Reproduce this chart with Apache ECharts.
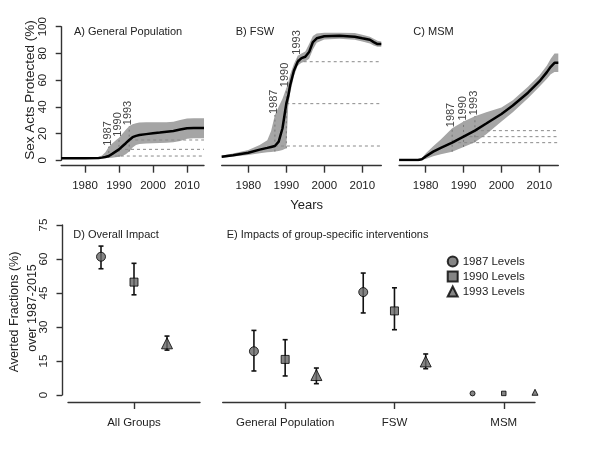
<!DOCTYPE html>
<html><head><meta charset="utf-8">
<script src="https://cdn.jsdelivr.net/npm/echarts@6/dist/echarts.min.js"></script>
<style>html,body{margin:0;padding:0;background:#fff}#c{width:600px;height:450px}</style>
</head><body><div id="c"></div>
<script>
const FONT = '"Liberation Sans", Arial, Helvetica, sans-serif';

// ---------- Top row: Sex Acts Protected (%) ----------
const yearsA = [1973, 1980, 1984, 1985, 1986, 1987, 1988, 1989, 1990, 1991, 1992, 1993, 1994, 1995, 1996, 1998, 2000, 2002, 2004, 2006, 2008, 2010, 2012, 2015];
const meanA  = [1.5, 1.6, 1.8, 2.0, 2.5, 3.2, 4.8, 6.5, 8.2, 10.5, 12.8, 15.2, 17.3, 18.3, 18.9, 19.6, 20.3, 20.8, 21.4, 22.0, 23.0, 24.0, 24.2, 24.2];
const lowA   = [1.4, 1.5, 1.6, 1.6, 1.7, 1.8, 2.0, 2.2, 2.6, 3.2, 4.5, 6.5, 9.5, 11.5, 12.2, 12.6, 12.8, 13.0, 13.2, 13.5, 14.5, 16.2, 16.5, 16.5];
const highA  = [1.6, 1.8, 2.5, 3.5, 6.0, 10.2, 12.5, 14.8, 16.9, 19.8, 22.8, 25.5, 27.0, 27.8, 28.2, 28.4, 28.4, 28.4, 28.5, 28.8, 30.2, 31.2, 31.4, 31.4];
const levelsA = [3.2, 8.2, 15.2];

const yearsB = [1973, 1976, 1980, 1983, 1985, 1986, 1987, 1988, 1989, 1990, 1990.5, 1991, 1992, 1993, 1994, 1995, 1996, 1997, 1998, 2000, 2004, 2008, 2010, 2012, 2013, 2014, 2015];
const meanB  = [2.7, 3.8, 5.7, 8.0, 9.3, 10.0, 10.7, 14.0, 24.0, 42.4, 48.0, 56.0, 67.0, 73.8, 76.5, 77.5, 81.0, 88.5, 91.3, 92.8, 93.3, 92.5, 91.3, 90.2, 88.5, 87.0, 87.0];
const lowB   = [1.9, 2.8, 4.0, 5.3, 6.0, 6.3, 6.5, 7.0, 7.8, 9.0, 40.0, 50.0, 63.0, 71.0, 73.0, 74.0, 76.0, 83.0, 88.0, 90.5, 91.0, 90.2, 89.0, 87.5, 86.0, 85.0, 85.0];
const highB  = [3.6, 5.0, 7.8, 11.5, 15.0, 22.0, 33.9, 40.0, 46.0, 54.0, 58.0, 64.0, 72.0, 78.3, 80.0, 81.5, 87.0, 93.0, 95.0, 95.5, 95.5, 95.3, 94.0, 92.5, 91.0, 89.5, 89.0];
const levelsB = [10.7, 42.4, 73.8];

const yearsC = [1973, 1978, 1979, 1980, 1982, 1984, 1987, 1990, 1993, 1996, 2000, 2003, 2007, 2010, 2012, 2013, 2014, 2015];
const meanC  = [0.2, 0.2, 0.8, 2.8, 6.5, 9.3, 13.2, 17.7, 22.2, 27.5, 34.7, 41.0, 50.6, 59.0, 66.0, 70.0, 73.0, 73.0];
const lowC   = [0.1, 0.1, 0.3, 1.0, 3.0, 4.5, 6.4, 10.0, 13.5, 19.5, 29.0, 36.0, 46.4, 55.0, 61.0, 64.5, 66.0, 66.0];
const highC  = [0.3, 0.4, 1.5, 5.0, 10.5, 15.5, 24.0, 29.0, 33.0, 36.0, 39.5, 45.0, 55.0, 63.5, 71.0, 76.0, 80.0, 80.0];
const levelsC = [13.2, 17.7, 22.2];

const levelYears = [1987, 1990, 1993];
const topXTicks = [1980, 1990, 2000, 2010];
const panelTitles = ['A) General Population', 'B) FSW', 'C) MSM'];

// ---------- Bottom row: Averted Fractions (%) ----------
const levelNames = ['1987 Levels', '1990 Levels', '1993 Levels'];
const overallMid  = [61.0, 49.8, 22.8];
const overallLow  = [55.7, 44.2, 19.8];
const overallHigh = [65.7, 58.1, 26.0];

const groupsE = ['General Population', 'FSW', 'MSM'];
// rows = level (1987, 1990, 1993), columns = group
const eMid  = [[19.3, 45.4, 0.7], [15.7, 37.1, 0.7], [8.8, 14.8, 1.2]];
const eLow  = [[10.6, 36.2, 0.7], [8.4, 28.8, 0.7], [5.0, 11.6, 1.2]];
const eHigh = [[28.5, 53.8, 0.7], [24.4, 47.3, 0.7], [11.9, 18.1, 1.2]];

const bottomYTicksMax = 75;

// ---------- build ----------
const symbols = ['circle', 'rect', 'triangle'];
const bigSizes = [9, 8, 11];
const smallSizes = [5, 4.5, 6];
const markerStyle = {color: '#666', borderColor: '#000', borderWidth: 1};
const axisLineStyle = {color: '#333', width: 1.4};
const txt = {fontFamily: FONT, color: '#222'};
const plain = v => String(v);

const topPanels = [
  {years: yearsA, mean: meanA, low: lowA, high: highA, levels: levelsA, left: 61.2, width: 142.8},
  {years: yearsB, mean: meanB, low: lowB, high: highB, levels: levelsB, left: 221.7, width: 159.6},
  {years: yearsC, mean: meanC, low: lowC, high: highC, levels: levelsC, left: 399.1, width: 159.2}
];

const grid = [], xAxis = [], yAxis = [], series = [], graphic = [];

topPanels.forEach((p, i) => {
  grid.push({left: p.left, top: 26.7, width: p.width, height: 133.6, outerBoundsMode: 'none'});
  xAxis.push({
    gridIndex: i, type: 'value', min: 1973, max: 2015, offset: 5.4,
    axisLine: {show: true, onZero: false, lineStyle: axisLineStyle},
    axisTick: {show: true, length: 7, customValues: topXTicks, lineStyle: axisLineStyle},
    axisLabel: {customValues: topXTicks, margin: 14, fontSize: 11.5, ...txt, formatter: plain},
    splitLine: {show: false}
  });
  yAxis.push({
    gridIndex: i, type: 'value', min: 0, max: 100, interval: 20, show: i === 0,
    axisLine: {show: true, onZero: false, lineStyle: axisLineStyle},
    axisTick: {show: true, length: 5.5, lineStyle: axisLineStyle},
    axisLabel: {rotate: 90, margin: 12, fontSize: 11.5, ...txt, formatter: plain},
    splitLine: {show: false}
  });
  // CI band
  series.push({
    type: 'custom', xAxisIndex: i, yAxisIndex: i, z: 1, silent: true,
    data: [[p.years[0], p.low[0]]],
    renderItem: (params, api) => {
      const pts = p.years.map((y, k) => api.coord([y, p.high[k]]));
      for (let k = p.years.length - 1; k >= 0; k--) pts.push(api.coord([p.years[k], p.low[k]]));
      return {type: 'polygon', shape: {points: pts}, style: {fill: '#a5a5a5'}};
    }
  });
  // level dashed lines, vertical CI marks and year labels
  series.push({
    type: 'custom', xAxisIndex: i, yAxisIndex: i, z: 2, silent: true,
    data: levelYears.map((y, k) => [y, p.levels[k]]),
    renderItem: (params, api) => {
      const y = api.value(0), v = api.value(1);
      const idx = p.years.indexOf(y);
      const a = api.coord([y, v]), b = api.coord([2015, v]);
      const lo = api.coord([y, p.low[idx]]), hi = api.coord([y, p.high[idx]]);
      return {type: 'group', children: [
        {type: 'line', shape: {x1: a[0], y1: a[1], x2: b[0], y2: b[1]}, style: {stroke: '#8a8a8a', lineWidth: 1, lineDash: [3, 3]}},
        {type: 'line', shape: {x1: lo[0], y1: lo[1], x2: hi[0], y2: hi[1]}, style: {stroke: '#777', lineWidth: 1, lineDash: [2, 3]}},
        {type: 'text', x: hi[0] - 1, y: hi[1] - 1, rotation: Math.PI / 2,
         style: {text: String(y), textAlign: 'left', textVerticalAlign: 'middle', font: '11px ' + FONT, fill: '#444'}}
      ]};
    }
  });
  // mean line
  series.push({
    type: 'line', xAxisIndex: i, yAxisIndex: i, z: 3, silent: true, showSymbol: false,
    data: p.years.map((y, k) => [y, p.mean[k]]),
    lineStyle: {color: '#000', width: 2.5}
  });
  graphic.push({type: 'text', left: [74, 235.7, 413.3][i], top: 26.5,
    style: {text: panelTitles[i], font: '11px ' + FONT, fill: '#222'}});
});

// Bottom D
const gD = 3, gE = 4;
grid.push({left: 68, top: 225, width: 132, height: 170, outerBoundsMode: 'none'});
grid.push({left: 222.7, top: 225, width: 312.3, height: 170, outerBoundsMode: 'none'});
const dTick = [2];
xAxis.push({
  gridIndex: gD, type: 'value', min: 0, max: 4, offset: 7,
  axisLine: {show: true, onZero: false, lineStyle: axisLineStyle},
  axisTick: {show: true, length: 7, customValues: dTick, lineStyle: axisLineStyle},
  axisLabel: {customValues: dTick, margin: 15, fontSize: 11.5, ...txt, formatter: () => 'All Groups'},
  splitLine: {show: false}
});
yAxis.push({
  gridIndex: gD, type: 'value', min: 0, max: bottomYTicksMax, interval: 15, offset: 6,
  axisLine: {show: true, onZero: false, lineStyle: axisLineStyle},
  axisTick: {show: true, length: 5.5, lineStyle: axisLineStyle},
  axisLabel: {rotate: 90, margin: 12, fontSize: 11.5, ...txt, formatter: plain},
  splitLine: {show: false}
});
const eCenters = groupsE.map((g, k) => k * 3.5 + 2);
xAxis.push({
  gridIndex: gE, type: 'value', min: 0, max: 10, offset: 7,
  axisLine: {show: true, onZero: false, lineStyle: axisLineStyle},
  axisTick: {show: true, length: 7, customValues: eCenters, lineStyle: axisLineStyle},
  axisLabel: {customValues: eCenters, margin: 15, fontSize: 11.5, ...txt,
    formatter: v => groupsE[eCenters.indexOf(v)] || ''},
  splitLine: {show: false}
});
yAxis.push({gridIndex: gE, type: 'value', min: 0, max: bottomYTicksMax, show: false, splitLine: {show: false}});

function errorBars(ax, rows) {
  return {
    type: 'custom', xAxisIndex: ax, yAxisIndex: ax, z: 2, silent: true, data: rows,
    renderItem: (params, api) => {
      const x = api.value(0), lo = api.value(1), hi = api.value(2);
      if (hi - lo < 0.5) return {type: 'group', children: []};
      const a = api.coord([x, lo]), b = api.coord([x, hi]);
      const c = 2.5, st = {stroke: '#111', lineWidth: 1.6};
      return {type: 'group', children: [
        {type: 'line', shape: {x1: a[0], y1: a[1], x2: b[0], y2: b[1]}, style: st},
        {type: 'line', shape: {x1: a[0] - c, y1: a[1], x2: a[0] + c, y2: a[1]}, style: st},
        {type: 'line', shape: {x1: b[0] - c, y1: b[1], x2: b[0] + c, y2: b[1]}, style: st}
      ]};
    }
  };
}

levelNames.forEach((name, l) => {
  // D
  series.push(errorBars(gD, [[1 + l, overallLow[l], overallHigh[l]]]));
  series.push({
    name, type: 'scatter', xAxisIndex: gD, yAxisIndex: gD, z: 3, symbol: symbols[l], symbolSize: bigSizes[l],
    itemStyle: markerStyle, data: [[1 + l, overallMid[l]]]
  });
  // E
  series.push(errorBars(gE, groupsE.map((g, k) => [k * 3.5 + 1 + l, eLow[l][k], eHigh[l][k]])));
  series.push({
    name, type: 'scatter', xAxisIndex: gE, yAxisIndex: gE, z: 3, symbol: symbols[l],
    itemStyle: markerStyle,
    data: groupsE.map((g, k) => ({value: [k * 3.5 + 1 + l, eMid[l][k]], symbolSize: k === 2 ? smallSizes[l] : bigSizes[l]}))
  });
});

graphic.push(
  {type: 'text', left: 73.3, top: 229.5, style: {text: 'D) Overall Impact', font: '11px ' + FONT, fill: '#222'}},
  {type: 'text', left: 226.7, top: 229.5, style: {text: 'E) Impacts of group-specific interventions', font: '11px ' + FONT, fill: '#222'}},
  {type: 'text', x: 306.7, y: 205.7, style: {text: 'Years', font: '13px ' + FONT, fill: '#222', textAlign: 'center', textVerticalAlign: 'middle'}},
  {type: 'text', x: 30, y: 90, rotation: Math.PI / 2, style: {text: 'Sex Acts Protected (%)', font: '13.5px ' + FONT, fill: '#222', textAlign: 'center', textVerticalAlign: 'middle'}},
  {type: 'text', x: 15, y: 312, rotation: Math.PI / 2, style: {text: 'Averted Fractions (%)', font: '12.5px ' + FONT, fill: '#222', textAlign: 'center', textVerticalAlign: 'middle'}},
  {type: 'text', x: 33, y: 308, rotation: Math.PI / 2, style: {text: 'over 1987-2015', font: '12.5px ' + FONT, fill: '#222', textAlign: 'center', textVerticalAlign: 'middle'}}
);

const chart = echarts.init(document.getElementById('c'), null, {renderer: 'canvas'});
chart.setOption({
  animation: false,
  backgroundColor: '#fff',
  grid, xAxis, yAxis, series, graphic,
  legend: {
    left: 446.7, top: 255.5, orient: 'vertical', padding: 0, itemWidth: 10, itemHeight: 10, itemGap: 3,
    selectedMode: false, textStyle: {fontSize: 11.5, ...txt},
    data: levelNames.map((n, l) => ({name: n, icon: symbols[l]}))
  }
});
</script>
</body></html>
